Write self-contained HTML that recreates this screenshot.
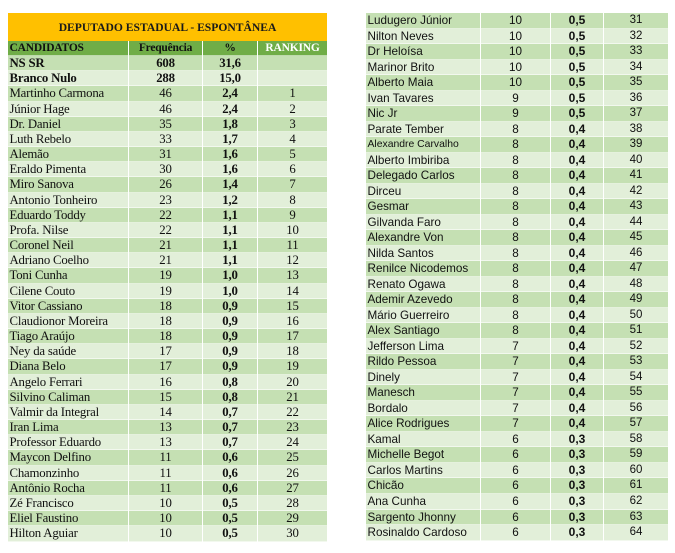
<!DOCTYPE html>
<html><head><meta charset="utf-8">
<style>
html,body{margin:0;padding:0;background:#fff;}
body{width:675px;height:553px;position:relative;overflow:hidden;}
.t{position:absolute;}
.l{left:8px;top:13px;width:319px;font-family:"Liberation Serif",serif;font-size:12.8px;letter-spacing:-0.2px;color:#111;}
.rt{left:366px;top:13px;width:302px;font-family:"Liberation Sans",sans-serif;font-size:11.7px;color:#111;}
.title{height:28px;background:#FFC000;text-align:center;font-weight:bold;font-size:11.6px;letter-spacing:0;line-height:29px;color:#1a1a1a;}
.r{display:grid;overflow:hidden;box-shadow:inset 0 -1px 0 rgba(255,255,255,.55);}
.l .r{grid-template-columns:120px 74px 55px 70px;height:15.18px;line-height:14.6px;}
.rt .r{grid-template-columns:114px 70px 53px 65px;height:15.53px;line-height:15.8px;}
.r>*{display:block;white-space:nowrap;overflow:hidden;text-align:center;}
.r>*:first-child{text-align:left;padding-left:1.5px;}
.r>*+*{border-left:1px solid #fff;}
.d{background:#C5E0B3;}
.w{background:#E2EFD9;}
.h{background:#70AD47;font-weight:bold;font-size:11.5px;height:15px!important;line-height:15px!important;}
.h>*:last-child{color:#fff;}
.bb>*{font-weight:bold;}
.l b{font-weight:bold;}
.rt b{font-weight:bold;font-size:12px;}
.rt i{font-style:normal;font-size:11.5px;}
.sm{font-size:10.4px;}
</style></head><body>

<div class="t l">
<div class="title">DEPUTADO ESTADUAL - ESPONTÂNEA</div>
<div class="r h"><span>CANDIDATOS</span><span>Frequência</span><span>%</span><span>RANKING</span></div>
<div class="r d bb"><span>NS SR</span><span>608</span><span>31,6</span><span></span></div>
<div class="r w bb"><span>Branco Nulo</span><span>288</span><span>15,0</span><span></span></div>
<div class="r d"><span>Martinho Carmona</span><span>46</span><b>2,4</b><span>1</span></div>
<div class="r w"><span>Júnior Hage</span><span>46</span><b>2,4</b><span>2</span></div>
<div class="r d"><span>Dr. Daniel</span><span>35</span><b>1,8</b><span>3</span></div>
<div class="r w"><span>Luth Rebelo</span><span>33</span><b>1,7</b><span>4</span></div>
<div class="r d"><span>Alemão</span><span>31</span><b>1,6</b><span>5</span></div>
<div class="r w"><span>Eraldo Pimenta</span><span>30</span><b>1,6</b><span>6</span></div>
<div class="r d"><span>Miro Sanova</span><span>26</span><b>1,4</b><span>7</span></div>
<div class="r w"><span>Antonio Tonheiro</span><span>23</span><b>1,2</b><span>8</span></div>
<div class="r d"><span>Eduardo Toddy</span><span>22</span><b>1,1</b><span>9</span></div>
<div class="r w"><span>Profa. Nilse</span><span>22</span><b>1,1</b><span>10</span></div>
<div class="r d"><span>Coronel Neil</span><span>21</span><b>1,1</b><span>11</span></div>
<div class="r w"><span>Adriano Coelho</span><span>21</span><b>1,1</b><span>12</span></div>
<div class="r d"><span>Toni Cunha</span><span>19</span><b>1,0</b><span>13</span></div>
<div class="r w"><span>Cilene Couto</span><span>19</span><b>1,0</b><span>14</span></div>
<div class="r d"><span>Vitor Cassiano</span><span>18</span><b>0,9</b><span>15</span></div>
<div class="r w"><span>Claudionor Moreira</span><span>18</span><b>0,9</b><span>16</span></div>
<div class="r d"><span>Tiago Araújo</span><span>18</span><b>0,9</b><span>17</span></div>
<div class="r w"><span>Ney da saúde</span><span>17</span><b>0,9</b><span>18</span></div>
<div class="r d"><span>Diana Belo</span><span>17</span><b>0,9</b><span>19</span></div>
<div class="r w"><span>Angelo Ferrari</span><span>16</span><b>0,8</b><span>20</span></div>
<div class="r d"><span>Silvino Caliman</span><span>15</span><b>0,8</b><span>21</span></div>
<div class="r w"><span>Valmir da Integral</span><span>14</span><b>0,7</b><span>22</span></div>
<div class="r d"><span>Iran Lima</span><span>13</span><b>0,7</b><span>23</span></div>
<div class="r w"><span>Professor Eduardo</span><span>13</span><b>0,7</b><span>24</span></div>
<div class="r d"><span>Maycon Delfino</span><span>11</span><b>0,6</b><span>25</span></div>
<div class="r w"><span>Chamonzinho</span><span>11</span><b>0,6</b><span>26</span></div>
<div class="r d"><span>Antônio Rocha</span><span>11</span><b>0,6</b><span>27</span></div>
<div class="r w"><span>Zé Francisco</span><span>10</span><b>0,5</b><span>28</span></div>
<div class="r d"><span>Eliel Faustino</span><span>10</span><b>0,5</b><span>29</span></div>
<div class="r w"><span>Hilton Aguiar</span><span>10</span><b>0,5</b><span>30</span></div>
</div>

<div class="t rt">
<div class="r d"><span>Ludugero Júnior</span><span>10</span><b>0,5</b><i>31</i></div>
<div class="r w"><span>Nilton Neves</span><span>10</span><b>0,5</b><i>32</i></div>
<div class="r d"><span>Dr Heloísa</span><span>10</span><b>0,5</b><i>33</i></div>
<div class="r w"><span>Marinor Brito</span><span>10</span><b>0,5</b><i>34</i></div>
<div class="r d"><span>Alberto Maia</span><span>10</span><b>0,5</b><i>35</i></div>
<div class="r w"><span>Ivan Tavares</span><span>9</span><b>0,5</b><i>36</i></div>
<div class="r d"><span>Nic Jr</span><span>9</span><b>0,5</b><i>37</i></div>
<div class="r w"><span>Parate Tember</span><span>8</span><b>0,4</b><i>38</i></div>
<div class="r d"><span class="sm">Alexandre Carvalho</span><span>8</span><b>0,4</b><i>39</i></div>
<div class="r w"><span>Alberto Imbiriba</span><span>8</span><b>0,4</b><i>40</i></div>
<div class="r d"><span>Delegado Carlos</span><span>8</span><b>0,4</b><i>41</i></div>
<div class="r w"><span>Dirceu</span><span>8</span><b>0,4</b><i>42</i></div>
<div class="r d"><span>Gesmar</span><span>8</span><b>0,4</b><i>43</i></div>
<div class="r w"><span>Gilvanda Faro</span><span>8</span><b>0,4</b><i>44</i></div>
<div class="r d"><span>Alexandre Von</span><span>8</span><b>0,4</b><i>45</i></div>
<div class="r w"><span>Nilda Santos</span><span>8</span><b>0,4</b><i>46</i></div>
<div class="r d"><span>Renilce Nicodemos</span><span>8</span><b>0,4</b><i>47</i></div>
<div class="r w"><span>Renato Ogawa</span><span>8</span><b>0,4</b><i>48</i></div>
<div class="r d"><span>Ademir Azevedo</span><span>8</span><b>0,4</b><i>49</i></div>
<div class="r w"><span>Mário Guerreiro</span><span>8</span><b>0,4</b><i>50</i></div>
<div class="r d"><span>Alex Santiago</span><span>8</span><b>0,4</b><i>51</i></div>
<div class="r w"><span>Jefferson Lima</span><span>7</span><b>0,4</b><i>52</i></div>
<div class="r d"><span>Rildo Pessoa</span><span>7</span><b>0,4</b><i>53</i></div>
<div class="r w"><span>Dinely</span><span>7</span><b>0,4</b><i>54</i></div>
<div class="r d"><span>Manesch</span><span>7</span><b>0,4</b><i>55</i></div>
<div class="r w"><span>Bordalo</span><span>7</span><b>0,4</b><i>56</i></div>
<div class="r d"><span>Alice Rodrigues</span><span>7</span><b>0,4</b><i>57</i></div>
<div class="r w"><span>Kamal</span><span>6</span><b>0,3</b><i>58</i></div>
<div class="r d"><span>Michelle Begot</span><span>6</span><b>0,3</b><i>59</i></div>
<div class="r w"><span>Carlos Martins</span><span>6</span><b>0,3</b><i>60</i></div>
<div class="r d"><span>Chicão</span><span>6</span><b>0,3</b><i>61</i></div>
<div class="r w"><span>Ana Cunha</span><span>6</span><b>0,3</b><i>62</i></div>
<div class="r d"><span>Sargento Jhonny</span><span>6</span><b>0,3</b><i>63</i></div>
<div class="r w"><span>Rosinaldo Cardoso</span><span>6</span><b>0,3</b><i>64</i></div>
</div>

</body></html>
